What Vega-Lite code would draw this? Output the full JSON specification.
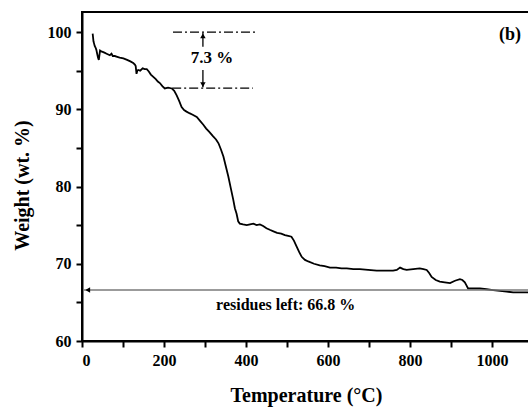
{
  "$schema": "https://vega.github.io/schema/vega-lite/v6.json",
  "width": 448,
  "height": 329,
  "autosize": {"type": "none"},
  "padding": {"left": 82, "top": 12, "right": 0, "bottom": 69},
  "config": {
    "view": {"stroke": "black", "strokeWidth": 2},
    "font": "Liberation Serif",
    "axis": {"labelFont": "Liberation Serif", "titleFont": "Liberation Serif", "labelFontWeight": "bold", "titleFontWeight": "bold", "labelColor": "black", "titleColor": "black", "domainColor": "black", "tickColor": "black", "domainWidth": 2, "tickWidth": 2, "grid": false}
  },
  "datasets": {
    "curve": [
      {"t":26,"w":99.8},{"t":27,"w":99.3},{"t":28,"w":98.8},{"t":29,"w":98.6},{"t":31,"w":98.2},{"t":33,"w":98.0},{"t":35,"w":97.7},{"t":37,"w":97.2},{"t":39,"w":96.7},{"t":41,"w":96.4},{"t":42,"w":96.8},{"t":44,"w":97.6},{"t":47,"w":97.5},{"t":52,"w":97.4},{"t":56,"w":97.3},{"t":60,"w":97.2},{"t":64,"w":97.1},{"t":68,"w":97.0},{"t":72,"w":97.2},{"t":75,"w":96.9},{"t":80,"w":96.9},{"t":86,"w":96.8},{"t":92,"w":96.7},{"t":101,"w":96.6},{"t":110,"w":96.4},{"t":118,"w":96.2},{"t":125,"w":96.0},{"t":129,"w":95.8},{"t":131,"w":95.6},{"t":133,"w":94.6},{"t":135,"w":95.0},{"t":137,"w":95.1},{"t":142,"w":95.0},{"t":148,"w":95.3},{"t":153,"w":95.2},{"t":158,"w":95.2},{"t":163,"w":94.9},{"t":168,"w":94.5},{"t":174,"w":94.2},{"t":180,"w":93.9},{"t":185,"w":93.6},{"t":190,"w":93.4},{"t":196,"w":93.0},{"t":202,"w":92.7},{"t":210,"w":92.8},{"t":219,"w":92.7},{"t":225,"w":92.4},{"t":231,"w":91.8},{"t":237,"w":91.1},{"t":243,"w":90.3},{"t":249,"w":89.9},{"t":255,"w":89.7},{"t":262,"w":89.5},{"t":270,"w":89.3},{"t":280,"w":89.0},{"t":288,"w":88.5},{"t":296,"w":88.0},{"t":303,"w":87.5},{"t":310,"w":87.1},{"t":320,"w":86.5},{"t":327,"w":86.1},{"t":333,"w":85.6},{"t":339,"w":84.8},{"t":345,"w":83.9},{"t":351,"w":82.6},{"t":357,"w":81.3},{"t":363,"w":79.8},{"t":369,"w":78.3},{"t":373,"w":77.2},{"t":377,"w":76.5},{"t":381,"w":75.5},{"t":385,"w":75.2},{"t":393,"w":75.1},{"t":402,"w":75.0},{"t":410,"w":75.1},{"t":418,"w":75.2},{"t":426,"w":75.0},{"t":434,"w":75.1},{"t":442,"w":74.9},{"t":450,"w":74.6},{"t":458,"w":74.4},{"t":467,"w":74.2},{"t":476,"w":74.0},{"t":486,"w":73.9},{"t":495,"w":73.7},{"t":503,"w":73.6},{"t":511,"w":73.5},{"t":517,"w":73.0},{"t":524,"w":72.2},{"t":530,"w":71.5},{"t":536,"w":70.9},{"t":544,"w":70.5},{"t":552,"w":70.3},{"t":566,"w":70.0},{"t":580,"w":69.8},{"t":592,"w":69.7},{"t":605,"w":69.5},{"t":620,"w":69.5},{"t":633,"w":69.4},{"t":646,"w":69.4},{"t":662,"w":69.3},{"t":678,"w":69.3},{"t":698,"w":69.2},{"t":719,"w":69.1},{"t":740,"w":69.1},{"t":759,"w":69.1},{"t":768,"w":69.2},{"t":776,"w":69.5},{"t":784,"w":69.3},{"t":792,"w":69.2},{"t":808,"w":69.3},{"t":824,"w":69.4},{"t":833,"w":69.3},{"t":841,"w":69.2},{"t":847,"w":68.8},{"t":853,"w":68.3},{"t":863,"w":67.9},{"t":873,"w":67.7},{"t":885,"w":67.6},{"t":898,"w":67.5},{"t":910,"w":67.8},{"t":922,"w":68.0},{"t":928,"w":67.9},{"t":934,"w":67.6},{"t":938,"w":67.2},{"t":942,"w":66.8},{"t":956,"w":66.8},{"t":971,"w":66.8},{"t":987,"w":66.7},{"t":1003,"w":66.6},{"t":1020,"w":66.5},{"t":1036,"w":66.4},{"t":1052,"w":66.3},{"t":1068,"w":66.3},{"t":1084,"w":66.3},{"t":1093,"w":66.3}
    ],
    "dashes": [
      {"x1": 222, "x2": 429, "y": 100},
      {"x1": 220, "x2": 417, "y": 92.75}
    ],
    "vlines": [
      {"x": 295, "y1": 98.1, "y2": 99.9},
      {"x": 295, "y1": 95.1, "y2": 92.85}
    ],
    "heads": [
      {"x": 295, "y": 99.5, "s": "triangle-up"},
      {"x": 295, "y": 93.2, "s": "triangle-down"},
      {"x": 14, "y": 66.6, "s": "triangle-left"}
    ],
    "residue": [{"x1": 4, "x2": 1093, "y": 66.6}],
    "labels": [
      {"x": 317, "y": 96.6, "txt": "7.3 %", "size": 17},
      {"x": 497, "y": 64.7, "txt": "residues left: 66.8 %", "size": 16},
      {"x": 1044, "y": 99.6, "txt": "(b)", "size": 18}
    ]
  },
  "layer": [
    {
      "data": {"name": "curve"},
      "mark": {"type": "line", "color": "black", "strokeWidth": 1.8, "clip": true},
      "encoding": {
        "x": {"field": "t", "type": "quantitative", "scale": {"domain": [0, 1093], "nice": false, "zero": false},
          "axis": {"title": "Temperature (\u00b0C)", "values": [0,100,200,300,400,500,600,700,800,900,1000],
            "labelExpr": "datum.value % 200 === 0 ? datum.label : ''",
            "tickSize": 6, "labelPadding": 5, "labelFontSize": 16, "titleFontSize": 20, "titleY": 54, "titleBaseline": "middle", "format": "d"}},
        "y": {"field": "w", "type": "quantitative", "scale": {"domain": [60, 102.6], "nice": false, "zero": false},
          "axis": {"title": "Weight (wt. %)", "values": [60,65,70,75,80,85,90,95,100],
            "labelExpr": "datum.value % 10 === 0 ? datum.label : ''",
            "tickSize": 6, "labelPadding": 5, "labelFontSize": 16, "titleFontSize": 20, "titleX": -60, "titleY": 173, "titleAngle": -90, "titleAlign": "center", "titleBaseline": "middle"}}
      }
    },
    {
      "data": {"name": "residue"},
      "mark": {"type": "rule", "color": "#7a7a7a", "strokeWidth": 1.5},
      "encoding": {
        "x": {"field": "x1", "type": "quantitative"},
        "x2": {"field": "x2"},
        "y": {"field": "y", "type": "quantitative"}
      }
    },
    {
      "data": {"name": "dashes"},
      "mark": {"type": "rule", "color": "black", "strokeWidth": 1.3, "strokeDash": [9, 3, 2, 3]},
      "encoding": {
        "x": {"field": "x1", "type": "quantitative"},
        "x2": {"field": "x2"},
        "y": {"field": "y", "type": "quantitative"}
      }
    },
    {
      "data": {"name": "vlines"},
      "mark": {"type": "rule", "color": "black", "strokeWidth": 1.3},
      "encoding": {
        "x": {"field": "x", "type": "quantitative"},
        "y": {"field": "y1", "type": "quantitative"},
        "y2": {"field": "y2"}
      }
    },
    {
      "data": {"name": "heads"},
      "mark": {"type": "point", "filled": true, "color": "black", "opacity": 1, "size": 30},
      "encoding": {
        "x": {"field": "x", "type": "quantitative"},
        "y": {"field": "y", "type": "quantitative"},
        "shape": {"field": "s", "type": "nominal", "scale": null, "legend": null}
      }
    },
    {
      "data": {"name": "labels"},
      "mark": {"type": "text", "font": "Liberation Serif", "fontWeight": "bold", "color": "black", "align": "center", "baseline": "middle"},
      "encoding": {
        "x": {"field": "x", "type": "quantitative"},
        "y": {"field": "y", "type": "quantitative"},
        "text": {"field": "txt"},
        "size": {"field": "size", "type": "quantitative", "scale": null, "legend": null}
      }
    }
  ]
}
